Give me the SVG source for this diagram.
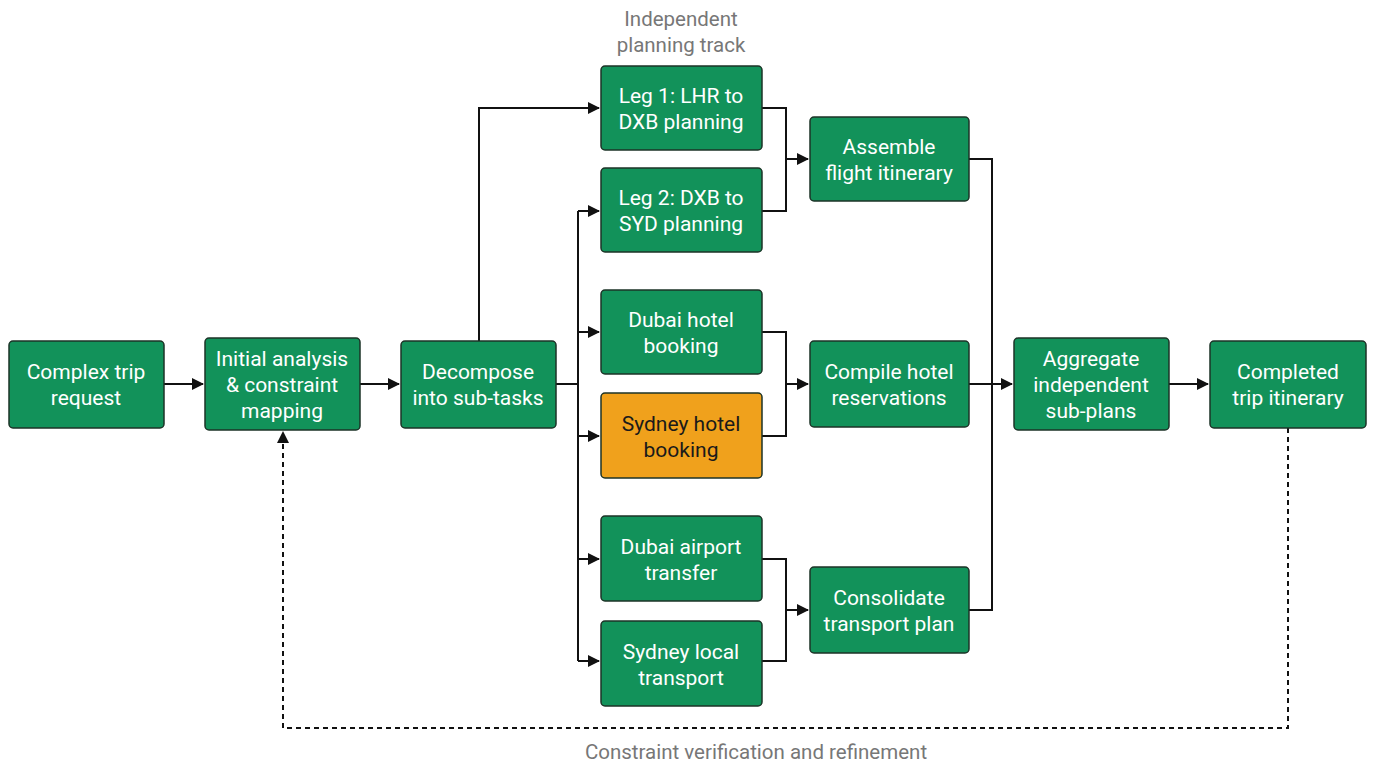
<svg xmlns="http://www.w3.org/2000/svg" width="1376" height="768" viewBox="0 0 1376 768">
<defs>
<marker id="a" markerWidth="12" markerHeight="12" refX="11" refY="6" orient="auto" markerUnits="userSpaceOnUse"><path d="M0,0 L12,6 L0,12 z" fill="#111"/></marker>
<style>
.n rect{fill:#12925a;stroke:#1c3327;stroke-width:1.5}
.n text{fill:#fff;font-family:Roboto,"Liberation Sans",sans-serif;font-size:21px;text-anchor:middle}
.o rect{fill:#f0a11c}
.o text{fill:#1a1a1a}
.c path{fill:none;stroke:#111;stroke-width:2}
.lbl{fill:#777;font-family:Roboto,"Liberation Sans",sans-serif;font-size:20.5px;text-anchor:middle}
</style>
</defs>
<rect width="1376" height="768" fill="#fff"/>
<g class="c">
<path d="M164,384 H203" marker-end="url(#a)"/>
<path d="M360,384 H399" marker-end="url(#a)"/>
<path d="M556,384 H578 M578,211 V661"/>
<path d="M479,341 V108 H599" marker-end="url(#a)"/>
<path d="M578,211 H599" marker-end="url(#a)"/>
<path d="M578,332 H599" marker-end="url(#a)"/>
<path d="M578,436 H599" marker-end="url(#a)"/>
<path d="M578,559 H599" marker-end="url(#a)"/>
<path d="M578,661 H599" marker-end="url(#a)"/>
<path d="M762,108 H786 V211 H762 M786,159 H808" marker-end="url(#a)"/>
<path d="M762,332 H786 V436 H762 M786,384 H808" marker-end="url(#a)"/>
<path d="M762,559 H786 V661 H762 M786,610 H808" marker-end="url(#a)"/>
<path d="M969,159 H992 V610 H969 M969,384 H1012" marker-end="url(#a)"/>
<path d="M1169,384 H1208" marker-end="url(#a)"/>
<path d="M1288,428 V728 H283 V432" stroke-dasharray="5,4" marker-end="url(#a)"/>
</g>
<g id="n1" class="n"><rect x="9" y="341" width="155" height="87" rx="4"/><text x="86" y="379">Complex trip</text><text x="86" y="405">request</text></g>
<g id="n2" class="n"><rect x="205" y="338" width="155" height="92" rx="4"/><text x="282" y="366">Initial analysis</text><text x="282" y="392">&amp; constraint</text><text x="282" y="418">mapping</text></g>
<g id="n3" class="n"><rect x="401" y="341" width="155" height="87" rx="4"/><text x="478" y="379">Decompose</text><text x="478" y="405">into sub-tasks</text></g>
<g id="n4" class="n"><rect x="601" y="66" width="161" height="84" rx="4"/><text x="681" y="103">Leg 1: LHR to</text><text x="681" y="129">DXB planning</text></g>
<g id="n5" class="n"><rect x="601" y="168" width="161" height="84" rx="4"/><text x="681" y="205">Leg 2: DXB to</text><text x="681" y="231">SYD planning</text></g>
<g id="n6" class="n"><rect x="601" y="290" width="161" height="84" rx="4"/><text x="681" y="327">Dubai hotel</text><text x="681" y="353">booking</text></g>
<g id="n7" class="n o"><rect x="601" y="393" width="161" height="85" rx="4"/><text x="681" y="431">Sydney hotel</text><text x="681" y="457">booking</text></g>
<g id="n8" class="n"><rect x="601" y="516" width="161" height="85" rx="4"/><text x="681" y="554">Dubai airport</text><text x="681" y="580">transfer</text></g>
<g id="n9" class="n"><rect x="601" y="621" width="161" height="85" rx="4"/><text x="681" y="659">Sydney local</text><text x="681" y="685">transport</text></g>
<g id="n10" class="n"><rect x="810" y="117" width="159" height="84" rx="4"/><text x="889" y="154">Assemble</text><text x="889" y="180">flight itinerary</text></g>
<g id="n11" class="n"><rect x="810" y="341" width="159" height="86" rx="4"/><text x="889" y="379">Compile hotel</text><text x="889" y="405">reservations</text></g>
<g id="n12" class="n"><rect x="810" y="567" width="159" height="86" rx="4"/><text x="889" y="605">Consolidate</text><text x="889" y="631">transport plan</text></g>
<g id="n13" class="n"><rect x="1014" y="338" width="155" height="92" rx="4"/><text x="1091" y="366">Aggregate</text><text x="1091" y="392">independent</text><text x="1091" y="418">sub-plans</text></g>
<g id="n14" class="n"><rect x="1210" y="341" width="156" height="87" rx="4"/><text x="1288" y="379">Completed</text><text x="1288" y="405">trip itinerary</text></g>
<text class="lbl" x="681" y="26">Independent</text>
<text class="lbl" x="681" y="52">planning track</text>
<text class="lbl" x="756" y="759">Constraint verification and refinement</text>
</svg>
